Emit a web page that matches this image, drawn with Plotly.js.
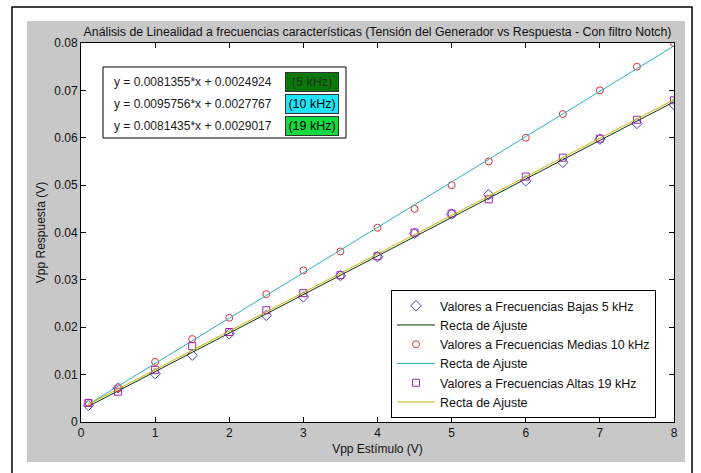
<!DOCTYPE html>
<html>
<head>
<meta charset="utf-8">
<script src="https://cdn.plot.ly/plotly-3.0.1.min.js"></script>
<style>
html,body{margin:0;padding:0;background:#fff;}
#chart{width:701px;height:473px;}
</style>
</head>
<body>
<div id="chart"></div>
<script>
// ---- data ----
const xVals = [0.1, 0.5, 1, 1.5, 2, 2.5, 3, 3.5, 4, 4.5, 5, 5.5, 6, 6.5, 7, 7.5, 8];
const y5k  = [0.0035, 0.0072, 0.0102, 0.0141, 0.0186, 0.0225, 0.0264, 0.0309, 0.0349, 0.0398, 0.0439, 0.0480, 0.0509, 0.0548, 0.0597, 0.0630, 0.0670];
const y10k = [0.0041, 0.0071, 0.0127, 0.0175, 0.0220, 0.0270, 0.0320, 0.0360, 0.0410, 0.0450, 0.0500, 0.0550, 0.0600, 0.0650, 0.0700, 0.0750, 0.0800];
const y19k = [0.0040, 0.0064, 0.0110, 0.0160, 0.0190, 0.0236, 0.0272, 0.0310, 0.0350, 0.0400, 0.0440, 0.0470, 0.0518, 0.0558, 0.0598, 0.0638, 0.0679];
const fitSlopes     = [0.0081355, 0.0095756, 0.0081435];
const fitIntercepts = [0.0024924, 0.0027767, 0.0029017];
const fitLabels  = ['(5 kHz)', '(10 kHz)', '(19 kHz)'];
const seriesNames = ['Valores a Frecuencias Bajas 5 kHz', 'Valores a Frecuencias Medias 10 kHz', 'Valores a Frecuencias Altas 19 kHz'];
const fitName = 'Recta de Ajuste';
const xTicks = [0, 1, 2, 3, 4, 5, 6, 7, 8];
const yTicks = [0, 0.01, 0.02, 0.03, 0.04, 0.05, 0.06, 0.07, 0.08];
const yTickText = ['0', '0.01', '0.02', '0.03', '0.04', '0.05', '0.06', '0.07', '0.08'];

// ---- styles ----
const FONT = 'Liberation Sans, Arial, Helvetica, sans-serif';
const markerColors = ['#4646c8', '#e0303a', '#a024b0'];
const markerSymbols = ['diamond-open', 'circle-open', 'square-open'];
const markerSizes = [8, 7, 7];
const fitColors = ['#003800', '#2ab4b8', '#cdb400'];
const boxColors = ['#087808', '#1ee6f8', '#14dc40'];
const boxText = ['#1e321e', '#000000', '#000000'];
const ySeries = [y5k, y10k, y19k];

const fitX = [xVals[0], xVals[xVals.length - 1]];
const traces = [];
for (let i = 0; i < 3; i++) {
  traces.push({
    x: xVals, y: ySeries[i], type: 'scatter', mode: 'markers', name: seriesNames[i],
    marker: {symbol: markerSymbols[i], size: markerSizes[i], color: markerColors[i], line: {width: 1, color: markerColors[i]}}
  });
  traces.push({
    x: fitX, y: fitX.map(v => fitSlopes[i] * v + fitIntercepts[i]), type: 'scatter', mode: 'lines', name: fitName,
    line: {color: fitColors[i], width: 1}
  });
}

const annotations = [];
const eqY = [0.897, 0.839, 0.781];
for (let i = 0; i < 3; i++) {
  annotations.push({
    xref: 'paper', yref: 'paper', x: 0.052, y: eqY[i], xanchor: 'left', yanchor: 'middle',
    text: 'y = ' + fitSlopes[i].toFixed(7) + '*x + ' + fitIntercepts[i].toFixed(7),
    showarrow: false, font: {family: FONT, size: 12, color: '#1a1a1a'}
  });
  annotations.push({
    xref: 'paper', yref: 'paper', x: 0.390, y: eqY[i], xanchor: 'center', yanchor: 'middle',
    text: fitLabels[i], showarrow: false, width: 50, height: 16, borderpad: 1,
    bgcolor: boxColors[i], bordercolor: '#333333', borderwidth: 1,
    font: {family: FONT, size: 12.5, color: boxText[i]}
  });
}

const layout = {
  width: 701, height: 473,
  margin: {l: 81, r: 27, t: 43, b: 51, pad: 0},
  paper_bgcolor: '#ffffff', plot_bgcolor: '#ffffff',
  font: {family: FONT, size: 12, color: '#111111'},
  title: {text: 'Análisis de Linealidad a frecuencias características (Tensión del Generador vs Respuesta - Con filtro Notch)',
          font: {family: FONT, size: 12.3, color: '#111111'}, x: 0.5, xref: 'paper', y: 1 - 32 / 473, yref: 'container', yanchor: 'middle'},
  xaxis: {range: [0, 8], tickvals: xTicks, ticktext: xTicks.map(String), ticks: 'inside', ticklen: 5, tickcolor: '#000',
          showline: true, linecolor: '#000', linewidth: 1, mirror: 'ticks', showgrid: false, zeroline: false,
          tickfont: {family: FONT, size: 12, color: '#111'},
          title: {text: 'Vpp Estímulo (V)', font: {family: FONT, size: 12, color: '#111'}, standoff: 5}},
  yaxis: {range: [0, 0.08], tickvals: yTicks, ticktext: yTickText, ticks: 'inside', ticklen: 5, tickcolor: '#000',
          showline: true, linecolor: '#000', linewidth: 1, mirror: 'ticks', showgrid: false, zeroline: false,
          tickfont: {family: FONT, size: 12, color: '#111'},
          title: {text: 'Vpp Respuesta (V)', font: {family: FONT, size: 12, color: '#111'}, standoff: 6}},
  showlegend: true,
  legend: {x: 0.5228, y: 0.348, xanchor: 'left', yanchor: 'top', bgcolor: '#ffffff', bordercolor: '#000', borderwidth: 1,
           font: {family: FONT, size: 12.5, color: '#111'}, itemwidth: 38, tracegroupgap: 0},
  shapes: [
    {type: 'rect', xref: 'paper', yref: 'paper', x0: -0.1164, x1: 1.0304, y0: -0.16, y1: 1.095, layer: 'below',
     line: {color: '#000', width: 1.5}, fillcolor: '#ffffff'},
    {type: 'rect', xref: 'paper', yref: 'paper', x0: -0.0911, x1: 1.0185, y0: -0.1055, y1: 1.058, layer: 'below',
     line: {width: 0}, fillcolor: '#c8c8c8'},
    {type: 'rect', xref: 'paper', yref: 'paper', x0: 0, x1: 1, y0: 0, y1: 1, layer: 'below',
     line: {width: 0}, fillcolor: '#ffffff'},
    {type: 'rect', xref: 'paper', yref: 'paper', x0: 0.0371, x1: 0.4469, y0: 0.7493, y1: 0.9367, layer: 'above',
     line: {color: '#000', width: 1}, fillcolor: '#ffffff'}
  ],
  annotations: annotations
};

Plotly.newPlot('chart', traces, layout, {staticPlot: true, displayModeBar: false});
</script>
</body>
</html>
